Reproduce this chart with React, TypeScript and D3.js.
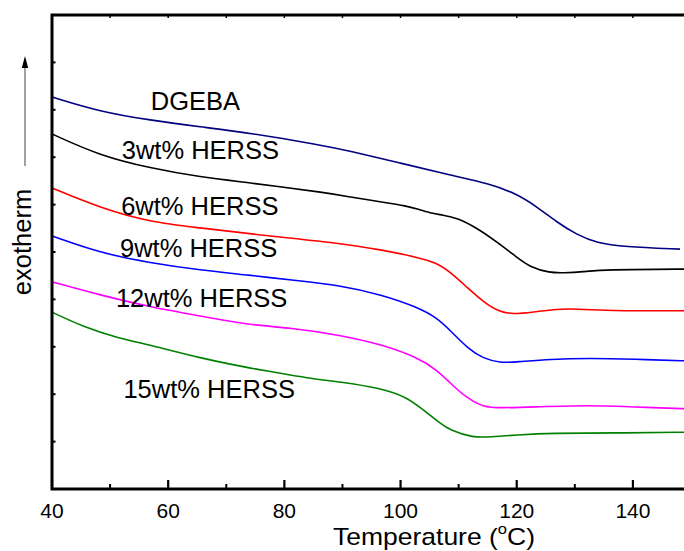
import React from "react";
import * as d3 from "d3";

// DSC curves: [temperature (°C), heat flow (arb. units)]
const dgeba: [number, number][] = [
  [40, 8.27], [48.3, 7.96], [56.9, 7.78], [65.5, 7.64], [74.1, 7.51], [86.2, 7.26],
  [91.3, 7.13], [99.9, 6.88], [108.5, 6.62], [115.4, 6.44], [120.1, 6.22], [123.5, 5.95],
  [126.9, 5.63], [130.4, 5.36], [133.8, 5.19], [138.3, 5.11], [148.1, 5.06],
];
const herss3: [number, number][] = [
  [40, 7.49], [48.3, 7.03], [56.9, 6.77], [65.5, 6.58], [74.1, 6.46], [87.9, 6.24],
  [91.3, 6.16], [97.0, 6.05], [101.1, 5.97], [102.8, 5.91], [105.1, 5.82], [107.3, 5.78],
  [109.7, 5.72], [113.1, 5.51], [116.6, 5.21], [120.0, 4.89], [122.3, 4.68], [125.7, 4.56],
  [128.0, 4.56], [131.4, 4.58], [134.9, 4.63], [150, 4.64],
];
const herss6: [number, number][] = [
  [40, 6.35], [48.3, 5.93], [56.9, 5.63], [65.5, 5.51], [74.1, 5.38], [89.6, 5.19],
  [97.0, 5.04], [102.8, 4.89], [106.3, 4.77], [108.5, 4.58], [111.4, 4.26], [114.2, 3.95],
  [117.1, 3.73], [119.4, 3.69], [122.8, 3.73], [126.9, 3.8], [130.4, 3.8], [134.9, 3.76],
  [150, 3.76],
];
const herss9: [number, number][] = [
  [40, 5.34], [48.3, 4.98], [56.9, 4.77], [65.5, 4.62], [74.1, 4.51], [81.0, 4.41],
  [89.6, 4.3], [97.0, 4.09], [102.8, 3.84], [106.3, 3.61], [108.5, 3.35], [111.9, 2.93],
  [114.2, 2.76], [117.1, 2.66], [120.0, 2.68], [125.7, 2.74], [132.6, 2.76], [140.0, 2.74],
  [150, 2.7],
];
const herss12: [number, number][] = [
  [40, 4.37], [48.3, 4.09], [56.9, 3.84], [65.5, 3.65], [74.1, 3.46], [81.0, 3.4],
  [89.6, 3.25], [97.0, 3.04], [102.8, 2.78], [106.3, 2.51], [108.5, 2.24], [111.4, 1.92],
  [114.2, 1.73], [117.1, 1.71], [122.8, 1.73], [132.6, 1.77], [140.0, 1.73], [150, 1.69],
];
const herss15: [number, number][] = [
  [40, 3.73], [45.4, 3.42], [51.2, 3.19], [56.9, 3.04], [65.5, 2.76], [74.1, 2.55],
  [78.1, 2.47], [83.9, 2.34], [89.6, 2.26], [96.5, 2.13], [101.1, 1.94], [103.9, 1.67],
  [106.8, 1.39], [108.5, 1.24], [112.5, 1.08], [115.4, 1.1], [120.0, 1.14], [125.7, 1.18],
  [137.3, 1.18], [150, 1.2],
];

const seriesData = [dgeba, herss3, herss6, herss9, herss12, herss15];
const seriesColors = ["#000080", "#000000", "#ff0000", "#0000ff", "#ff00ff", "#008000"];

// curve labels: text and the data point where each one sits (left, baseline)
const labelTexts = ["DGEBA", "3wt% HERSS", "6wt% HERSS", "9wt% HERSS", "12wt% HERSS", "15wt% HERSS"];
const labelAnchors: [number, number][] = [
  [57, 8.0], [52, 6.96], [51.9, 5.78], [51.7, 4.9], [51, 3.85], [52.3, 1.92],
];

const xTicks = [40, 60, 80, 100, 120, 140];
const xMinor = [50, 70, 90, 110, 130, 150];
const yTicks = [1, 2, 3, 4, 5, 6, 7, 8, 9];

const W = 684;
const H = 551;
const margin = { left: 52, top: 15, right: -7, bottom: 62 };
const font = "'Liberation Sans', Arial, sans-serif";

export default function App() {
  const innerW = W - margin.left - margin.right;
  const innerH = H - margin.top - margin.bottom;

  const x = d3.scaleLinear().domain([40, 150]).range([0, innerW]);
  const y = d3.scaleLinear().domain([0, 10]).range([innerH, 0]);

  const line = d3
    .line<[number, number]>()
    .x((d) => x(d[0]))
    .y((d) => y(d[1]))
    .curve(d3.curveBasis);

  return (
    <svg
      width={W}
      height={H}
      style={{ position: "absolute", left: 0, top: 0, background: "#fff" }}
      fontFamily={font}
    >
      <defs>
        <clipPath id="plot">
          <rect x={0} y={0} width={innerW} height={innerH} />
        </clipPath>
      </defs>
      <g transform={`translate(${margin.left},${margin.top})`}>
        {/* curves */}
        <g clipPath="url(#plot)">
          {seriesData.map((s, i) => (
            <path key={i} d={line(s) || ""} fill="none" stroke={seriesColors[i]} strokeWidth={1.6} />
          ))}
        </g>

        {/* curve labels */}
        {labelTexts.map((t, i) => (
          <text key={t} x={x(labelAnchors[i][0])} y={y(labelAnchors[i][1])} fontSize={25.5} fill="#000">
            {t}
          </text>
        ))}

        {/* ticks on bottom axis (inward) */}
        {xTicks.map((t) => (
          <line key={"M" + t} x1={x(t)} x2={x(t)} y1={innerH} y2={innerH - 9} stroke="#000" strokeWidth={2.2} />
        ))}
        {xMinor.map((t) => (
          <line key={"m" + t} x1={x(t)} x2={x(t)} y1={innerH} y2={innerH - 5} stroke="#000" strokeWidth={2} />
        ))}
        {/* ticks on top axis */}
        {xTicks.concat(xMinor).map((t) => (
          <line key={"t" + t} x1={x(t)} x2={x(t)} y1={0} y2={3} stroke="#000" strokeWidth={1.5} />
        ))}
        {/* left axis minor ticks */}
        {yTicks.map((t) => (
          <line key={"y" + t} x1={0} x2={3.5} y1={y(t)} y2={y(t)} stroke="#000" strokeWidth={2} />
        ))}

        {/* frame */}
        <rect x={0} y={0} width={innerW} height={innerH} fill="none" stroke="#000" strokeWidth={3} />

        {/* tick labels */}
        {xTicks.map((t) => (
          <text key={"l" + t} x={x(t)} y={innerH + 29} textAnchor="middle" fontSize={21} fill="#000">
            {t}
          </text>
        ))}

        {/* x title */}
        <text x={x(40) + 281} y={innerH + 56} fontSize={24} fill="#000" textLength={202} lengthAdjust="spacingAndGlyphs">
          Temperature (
          <tspan fontSize={15} dy={-11}>o</tspan>
          <tspan dy={11}>C)</tspan>
        </text>
      </g>

      {/* y title with arrow */}
      <text transform="translate(31,242) rotate(-90)" textAnchor="middle" fontSize={25.5} fill="#000">
        exotherm
      </text>
      <line x1={25} x2={25} y1={166} y2={64} stroke="#444" strokeWidth={1} />
      <path d="M25,56 L21.8,68 L28.2,68 Z" fill="#000" />
    </svg>
  );
}
